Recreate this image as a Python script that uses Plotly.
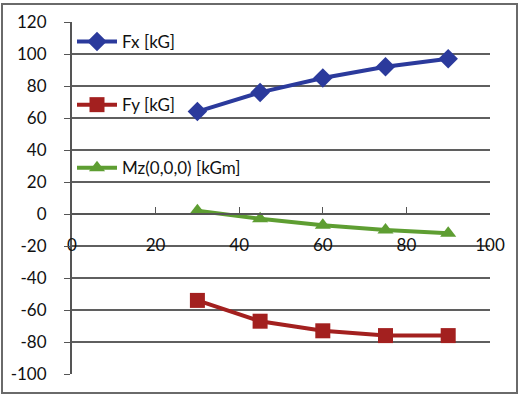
import plotly.graph_objects as go

x_vals = [30, 45, 60, 75, 90]
fx = [64, 76, 85, 92, 97]
fy = [-54, -67, -73, -76, -76]
mz = [2, -3, -7, -10, -12]
names = ["Fx [kG]", "Fy [kG]", "Mz(0,0,0) [kGm]"]
x_ticks = [0, 20, 40, 60, 80, 100]
y_ticks = [-100, -80, -60, -40, -20, 0, 20, 40, 60, 80, 100, 120]

colors = ["#2B3A9C", "#A3201F", "#5E9E32"]
symbols = ["diamond", "square", "triangle-up"]
sizes = [15, 15, 14]

fig = go.Figure()
for i, (ys, nm) in enumerate(zip([fx, fy, mz], names)):
    fig.add_trace(go.Scatter(
        x=x_vals, y=ys, name=nm, mode="lines+markers",
        line=dict(color=colors[i], width=4),
        marker=dict(symbol=symbols[i], size=sizes[i], color=colors[i]),
        legendgroup=str(i),
    ))

ymin, ymax = -100, 120
L, R, T, B = 72, 30, 22, 24
pw, ph = 520 - L - R, 398 - T - B
fig.update_layout(
    width=520, height=398,
    margin=dict(l=L, r=R, t=T, b=B, autoexpand=False),
    paper_bgcolor="white", plot_bgcolor="white",
    font=dict(family="Lato, 'Open Sans', sans-serif", size=17, color="#111111"),
    showlegend=True,
    legend=dict(x=0.0, y=1 - 2 / ph, xanchor="left", yanchor="top",
                bgcolor="rgba(0,0,0,0)", tracegroupgap=38,
                font=dict(size=17), itemwidth=40),
    xaxis=dict(range=[0, 100], tickvals=x_ticks, ticktext=[str(v) for v in x_ticks],
               showgrid=False, zeroline=False, automargin=False,
               showline=True, linecolor="#555555", linewidth=2,
               ticks="inside", ticklen=6, tickcolor="#555555",
               anchor="free", position=(0 - ymin) / (ymax - ymin),
               ticklabelstandoff=16),
    yaxis=dict(range=[ymin, ymax], tickvals=y_ticks, ticktext=[str(v) for v in y_ticks],
               showgrid=True, automargin=False,
               gridcolor="#5f5f5f", gridwidth=1.6, zeroline=False,
               showline=True, linecolor="#555555", linewidth=2,
               ticks="outside", ticklen=6, tickcolor="#555555",
               ticklabelstandoff=14),
    shapes=[dict(type="rect", xref="paper", yref="paper",
                 x0=(2 - L) / pw, x1=(517 - L) / pw,
                 y0=-(393 - (T + ph)) / ph, y1=1 + (T - 4) / ph,
                 line=dict(color="#6a6a6a", width=2), fillcolor="rgba(0,0,0,0)",
                 layer="above")],
)

fig.write_html("out.html",
               config={"displayModeBar": False},
               post_script="document.body.style.margin='0';document.body.style.overflow='hidden';")
